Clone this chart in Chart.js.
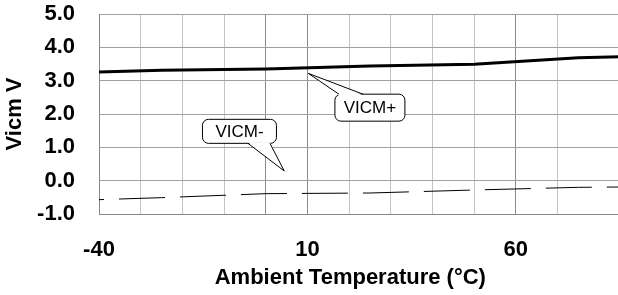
<!DOCTYPE html>
<html>
<head>
<meta charset="utf-8">
<script src="https://cdn.jsdelivr.net/npm/chart.js@4"></script>
<style>
html, body { margin: 0; padding: 0; overflow: hidden; background: #fff; }
#wrap { width: 622px; height: 295px; }
</style>
</head>
<body>
<div id="wrap"><canvas id="vicmChart" width="622" height="295"></canvas></div>
<script>
// data
const temps = [-40, -25, 0, 25, 50, 75, 85];
const vicmPlus = [3.26, 3.31, 3.35, 3.44, 3.49, 3.69, 3.72];
const vicmMinus = [-0.57, -0.51, -0.39, -0.37, -0.28, -0.20, -0.19];
const xTickLabels = [-40, 10, 60];
const darkGridTemps = [0, 10, 60];

// callout boxes: anchor values in data units
const calloutText = ['VICM+', 'VICM-'];
const calloutBox = [[25.0, 2.19], [-6.3, 1.48]];
const calloutTip = [[10.2, 3.22], [4.45, 0.29]];

const FONT = '"Liberation Sans", Arial, sans-serif';
const boldFont = { family: FONT, size: 22, weight: 'bold' };

const toPts = ys => temps.map((t, i) => ({ x: t, y: ys[i] }));

// drop the label-overflow padding chart.js adds, layout.padding sets the frame
const noPad = s => { s.paddingTop = s.paddingBottom = s.paddingLeft = s.paddingRight = 0; };

// rounded box with a pointer, drawn after the lines
const calloutPlugin = {
  id: 'callouts',
  afterDatasetsDraw(chart) {
    const { ctx, scales: { x, y } } = chart;
    const w = [70, 74], h = [27, 24], r = 6;
    ctx.save();
    ctx.lineWidth = 1;
    ctx.strokeStyle = '#000';
    ctx.fillStyle = '#fff';
    calloutText.forEach((txt, i) => {
      const cx = x.getPixelForValue(calloutBox[i][0]);
      const cy = y.getPixelForValue(calloutBox[i][1]);
      const tx = x.getPixelForValue(calloutTip[i][0]);
      const ty = y.getPixelForValue(calloutTip[i][1]);
      const l = cx - w[i] / 2, t = cy - h[i] / 2;
      ctx.beginPath();
      ctx.roundRect(l, t, w[i], h[i], r);
      ctx.fill();
      ctx.stroke();
      // pointer base on the edge facing the tip
      const onTop = ty < t;
      const ey = onTop ? t : t + h[i];
      const b1 = onTop ? cx - 31 : cx + 8.5;
      const b2 = onTop ? cx - 7 : cx + 30.5;
      const inset = onTop ? 1 : -1;
      ctx.beginPath();
      ctx.moveTo(b1, ey + inset);
      ctx.lineTo(tx, ty);
      ctx.lineTo(b2, ey + inset);
      ctx.closePath();
      ctx.fill();
      ctx.beginPath();
      ctx.moveTo(b1, ey);
      ctx.lineTo(tx, ty);
      ctx.lineTo(b2, ey);
      ctx.stroke();
      ctx.fillStyle = '#000';
      ctx.font = '17px ' + FONT;
      ctx.textAlign = 'center';
      ctx.textBaseline = 'middle';
      ctx.fillText(txt, cx, cy + 1);
      ctx.fillStyle = '#fff';
    });
    ctx.restore();
  }
};

new Chart(document.getElementById('vicmChart'), {
  type: 'line',
  data: {
    datasets: [
      { label: 'VICM+', data: toPts(vicmPlus), borderColor: '#000', borderWidth: 3, pointRadius: 0, tension: 0 },
      { label: 'VICM-', data: toPts(vicmMinus), borderColor: '#000', borderWidth: 1, borderDash: [46, 15], borderDashOffset: 41, pointRadius: 0, tension: 0 }
    ]
  },
  options: {
    responsive: false,
    animation: false,
    devicePixelRatio: 1,
    layout: { autoPadding: false, padding: { top: 14, right: 2, left: 0, bottom: 0 } },
    plugins: { legend: { display: false }, tooltip: { enabled: false } },
    scales: {
      x: {
        type: 'linear', min: -40, max: 85,
        afterFit: s => { s.height = 81; noPad(s); },
        ticks: {
          stepSize: 10, autoSkip: false, maxRotation: 0, padding: 23, color: '#000',
          font: boldFont,
          callback: v => xTickLabels.includes(v) ? String(v) : ''
        },
        grid: {
          drawTicks: false,
          color: c => darkGridTemps.includes(c.tick && c.tick.value) ? '#8c8c8c' : '#c4c4c4'
        },
        border: { color: '#888' },
        title: {
          display: true, text: 'Ambient Temperature (°C)   ', color: '#000',
          font: boldFont, padding: { top: 0, bottom: 4 }
        }
      },
      y: {
        min: -1, max: 5,
        afterFit: s => { s.width = 99; noPad(s); },
        ticks: {
          stepSize: 1, padding: 24, color: '#000',
          font: boldFont,
          callback: v => v.toFixed(1)
        },
        grid: { drawTicks: false, color: '#a0a0a0' },
        border: { color: '#888' },
        title: {
          display: true, text: 'Vicm V', color: '#000',
          font: boldFont, padding: { top: 2, bottom: 0 }
        }
      }
    }
  },
  plugins: [calloutPlugin]
});
</script>
</body>
</html>
